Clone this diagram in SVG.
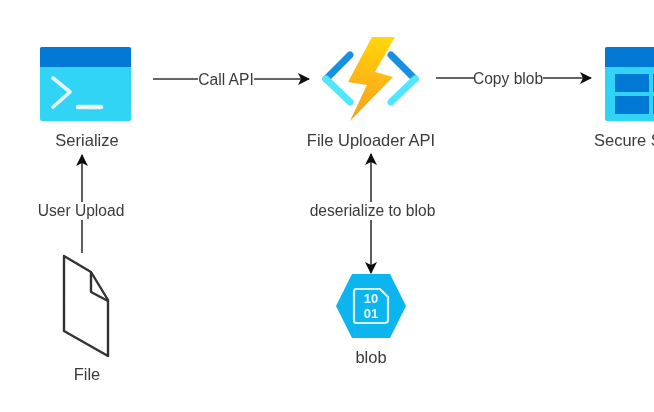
<svg xmlns="http://www.w3.org/2000/svg" width="654" height="412" viewBox="0 0 654 412">
<defs>
<style>
text{font-family:"Liberation Sans",Arial,sans-serif;font-size:16.5px;fill:#3a3a3a;text-anchor:middle}
.c{stroke:#333;stroke-width:1.6;fill:none}
.l{font-size:15.6px}
.w{fill:#fff}
.d{fill:#0078d4}
.p{fill:none;stroke:#e8f3f8;stroke-linecap:round;stroke-linejoin:round}
.t{fill:none;stroke-width:7;stroke-linecap:round}
.f{stroke:#333;stroke-width:2.400;stroke-linejoin:round}
.n{font-size:13px;font-weight:bold;fill:#eafaff}
</style>
<linearGradient id="g" gradientUnits="userSpaceOnUse" x1="384" y1="37" x2="358" y2="121"><stop offset="0" stop-color="#ffd70a"/><stop offset="0.55" stop-color="#fcb514"/><stop offset="1" stop-color="#f7a11a"/></linearGradient>
<filter id="b" filterUnits="userSpaceOnUse" x="0" y="0" width="654" height="412"><feGaussianBlur stdDeviation="0.45"/></filter>
<marker id="a" viewBox="0 0 12 12" refX="11" refY="6" markerWidth="12" markerHeight="12" markerUnits="userSpaceOnUse" orient="auto-start-reverse"><path d="M0 0L12 6L0 12L3 6Z" fill="#111"/></marker>
</defs>
<rect width="654" height="412" fill="#fff"/>
<g filter="url(#b)">
<g id="connectors">
<path class="c" d="M153 79H309" marker-end="url(#a)"/>
<path class="c" d="M436 78H591" marker-end="url(#a)"/>
<path class="c" d="M82 253V155" marker-end="url(#a)"/>
<path class="c" d="M371 154V273" marker-start="url(#a)" marker-end="url(#a)"/>
<rect class="w" x="198" y="71" width="56" height="16"/><text class="l" x="226" y="85">Call API</text>
<rect class="w" x="474" y="70" width="69" height="16"/><text class="l" x="508" y="84">Copy blob</text>
<rect class="w" x="38" y="202" width="87" height="18"/><text class="l" x="81" y="216">User Upload</text>
<rect class="w" x="309" y="202" width="127" height="18"/><text class="l" x="372.500" y="216">deserialize to blob</text>
</g>
<g id="serialize">
<rect x="40" y="47" width="91" height="74" rx="2" fill="#32d4f5"/>
<path class="d" d="M40 67V49a2 2 0 0 1 2-2h87a2 2 0 0 1 2 2v18Z"/>
<path class="p" stroke-width="3.600" d="M53 78L70 92L53 107"/>
<path class="p" stroke-width="4.400" d="M78 107H101"/>
<text x="87" y="146">Serialize</text>
</g>
<g id="file-uploader-api">
<path class="t" stroke="#1490df" d="M350 55L326 79"/>
<path class="t" stroke="#50e6ff" d="M326 79L350 102"/>
<path class="t" stroke="#1490df" d="M391 55L415 79"/>
<path class="t" stroke="#50e6ff" d="M415 79L391 102"/>
<path fill="url(#g)" d="M372 37H395L375 72L393 77L350 121L367 85L348 82Z"/>
<text x="371" y="146">File Uploader API</text>
</g>
<g id="secure-storage">
<rect x="605" y="47" width="60" height="74" rx="2" fill="#32d4f5"/>
<path class="d" d="M605 67V49a2 2 0 0 1 2-2h58v20Z"/>
<rect class="d" x="615" y="74" width="34" height="18"/>
<rect class="d" x="615" y="96" width="34" height="18"/>
<rect class="d" x="653" y="74" width="12" height="18"/>
<rect class="d" x="653" y="96" width="12" height="18"/>
<text x="594" y="146" style="text-anchor:start">Secure S</text>
</g>
<g id="file">
<path class="f" fill="#fff" d="M64 256L91 272L108 300V356L64 331Z"/>
<path class="f" fill="none" d="M91 272V292L108 301"/>
<text x="87" y="380">File</text>
</g>
<g id="blob">
<path fill="#0fb5ee" d="M352 274H390L406 306L390 338H352L336 306Z"/>
<path fill="none" stroke="#d8f3fc" stroke-width="2.200" d="M356 289H380L388 297V320Q388 323 385 323H356Q354 323 354 320V292Q354 289 356 289Z"/>
<text class="n" x="371" y="303">10</text>
<text class="n" x="371" y="318">01</text>
<text x="371" y="363">blob</text>
</g>
</g>
</svg>
